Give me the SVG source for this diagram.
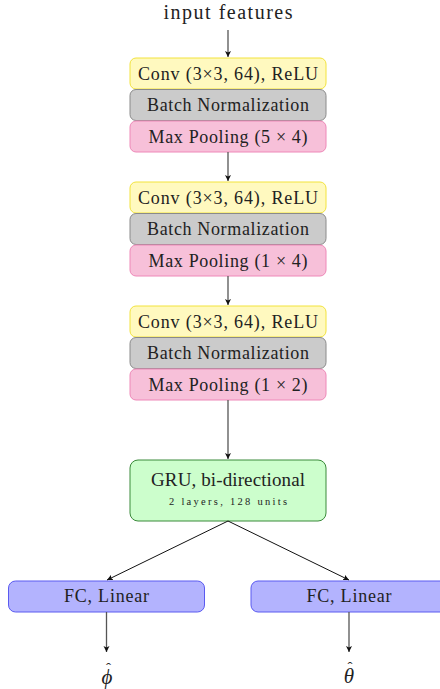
<svg xmlns="http://www.w3.org/2000/svg" width="440" height="689" viewBox="0 0 440 689">
<defs>
<style>
text{font-family:"Liberation Serif","DejaVu Serif",serif;fill:#222;text-anchor:middle}
.t{font-size:18px}
.yel{fill:#fff9bf;stroke:#f2e33c;stroke-width:1}
.gry{fill:#cbcbcb;stroke:#8a8a8a;stroke-width:1}
.pnk{fill:#f7c0d9;stroke:#ee88b8;stroke-width:1}
.grn{fill:#ccfecc;stroke:#3a8a3a;stroke-width:1}
.blu{fill:#b3b3fe;stroke:#5a5af0;stroke-width:1}
.v{stroke:#555;stroke-width:1.3;fill:none;marker-end:url(#ah)}
.d{stroke:#111;stroke-width:1;fill:none;marker-end:url(#ah)}
.m{font-style:italic;font-size:21px}
.hat{font-style:normal;font-size:15px}
</style>
<marker id="ah" markerWidth="8" markerHeight="8" refX="6" refY="4" orient="auto" markerUnits="userSpaceOnUse">
<path d="M0,1 L6,4 L0,7 L1.5,4 Z" fill="#111"/>
</marker>
</defs>
<text x="228" y="19" style="font-size:20px" textLength="129" lengthAdjust="spacing">input features</text>
<g id="block1">
<g id="conv1"><rect class="yel" x="130" y="58" width="196" height="31" rx="6"/><text class="t" x="228" y="79.5" textLength="180" lengthAdjust="spacing">Conv (3×3, 64), ReLU</text></g>
<g id="bn1"><rect class="gry" x="130" y="89.5" width="196" height="31" rx="6"/><text class="t" x="228" y="111" textLength="162" lengthAdjust="spacing">Batch Normalization</text></g>
<g id="pool1"><rect class="pnk" x="130" y="121" width="196" height="31" rx="6"/><text class="t" x="228" y="142.5" textLength="159" lengthAdjust="spacing">Max Pooling (5 × 4)</text></g>
</g>
<g id="block2">
<g id="conv2"><rect class="yel" x="130" y="182" width="196" height="31" rx="6"/><text class="t" x="228" y="203.5" textLength="180" lengthAdjust="spacing">Conv (3×3, 64), ReLU</text></g>
<g id="bn2"><rect class="gry" x="130" y="213.5" width="196" height="31" rx="6"/><text class="t" x="228" y="235" textLength="162" lengthAdjust="spacing">Batch Normalization</text></g>
<g id="pool2"><rect class="pnk" x="130" y="245" width="196" height="31" rx="6"/><text class="t" x="228" y="266.5" textLength="159" lengthAdjust="spacing">Max Pooling (1 × 4)</text></g>
</g>
<g id="block3">
<g id="conv3"><rect class="yel" x="130" y="306" width="196" height="31" rx="6"/><text class="t" x="228" y="327.5" textLength="180" lengthAdjust="spacing">Conv (3×3, 64), ReLU</text></g>
<g id="bn3"><rect class="gry" x="130" y="337.5" width="196" height="31" rx="6"/><text class="t" x="228" y="359" textLength="162" lengthAdjust="spacing">Batch Normalization</text></g>
<g id="pool3"><rect class="pnk" x="130" y="369" width="196" height="31" rx="6"/><text class="t" x="228" y="390.5" textLength="159" lengthAdjust="spacing">Max Pooling (1 × 2)</text></g>
</g>
<g id="gru"><rect class="grn" x="130" y="460" width="196" height="61" rx="8"/><text x="228" y="486" style="font-size:19px" textLength="154" lengthAdjust="spacing">GRU, bi-directional</text><text x="228" y="505" style="font-size:10.5px" textLength="118" lengthAdjust="spacing">2 layers, 128 units</text></g>
<g id="fc1"><rect class="blu" x="8.5" y="581" width="196" height="31" rx="7"/><text class="t" x="106.5" y="601.5" textLength="85" lengthAdjust="spacing">FC, Linear</text></g>
<g id="fc2"><rect class="blu" x="251" y="581" width="196" height="31" rx="7"/><text class="t" x="349" y="601.5" textLength="85" lengthAdjust="spacing">FC, Linear</text></g>
<g id="phi"><text class="m" x="107" y="684">ϕ<tspan class="hat" x="108.5" y="673">ˆ</tspan></text></g>
<g id="theta"><text class="m" x="349" y="683">θ<tspan class="hat" x="350" y="672">ˆ</tspan></text></g>
<g id="connectors">
<path class="v" d="M228,30 V57"/>
<path class="v" d="M228,152 V181"/>
<path class="v" d="M228,276 V305"/>
<path class="v" d="M228,400 V459"/>
<path class="d" d="M228,521 L107,580"/>
<path class="d" d="M228,521 L349,580"/>
<path class="v" d="M106.5,612 V652"/>
<path class="v" d="M349,612 V652"/>
</g>
</svg>
